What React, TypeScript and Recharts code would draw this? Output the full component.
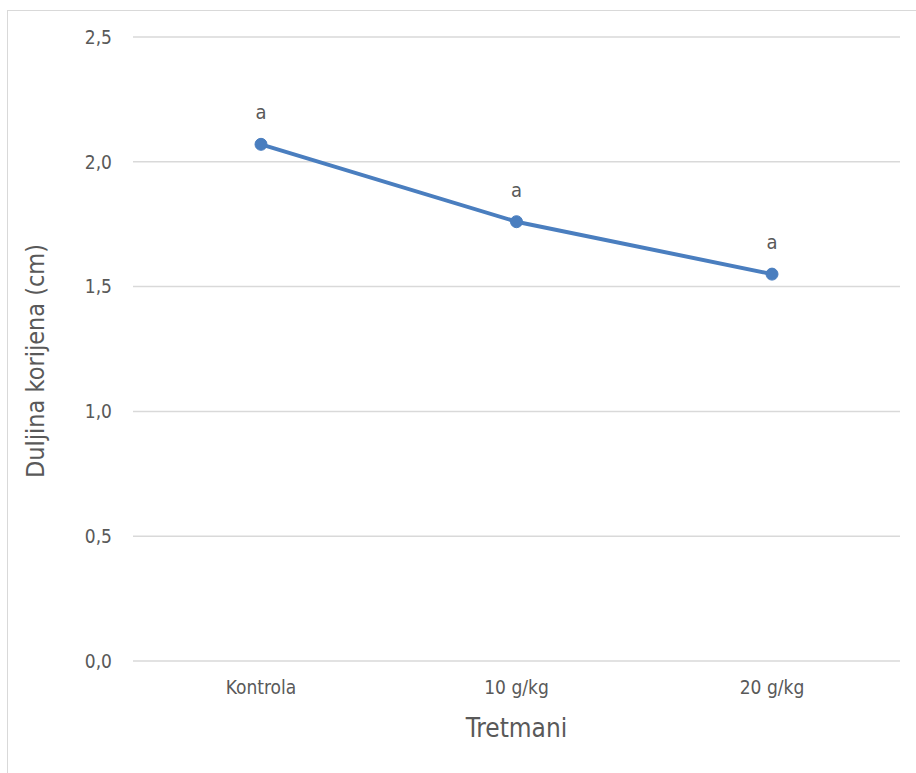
import React from "react";
import {
  LineChart,
  Line,
  XAxis,
  YAxis,
  CartesianGrid,
  LabelList,
  Label
} from "recharts";

const treatments = ["Kontrola", "10 g/kg", "20 g/kg"];
const rootLength = [2.07, 1.76, 1.55];
const significance = ["a", "a", "a"];
const yTicks = [0, 0.5, 1, 1.5, 2, 2.5];

const FONT = "'Liberation Sans Narrow', 'DejaVu Sans Condensed', 'Open Sans', sans-serif";
const TEXT = "#595959";

const data = treatments.map((name, i) => ({
  name,
  value: rootLength[i],
  sig: significance[i]
}));

const fmt = (v: number) => v.toFixed(1).replace(".", ",");

export default function App() {
  return (
    <div
      style={{
        position: "absolute",
        left: 7,
        top: 10,
        width: 930,
        height: 790,
        border: "1px solid #d9d9d9",
        background: "#fff",
        fontFamily: FONT
      }}
    >
      <div style={{ position: "absolute", left: -8, top: -11 }}>
        <LineChart
          width={920}
          height={780}
          data={data}
          margin={{ top: 37, right: 20, left: 0, bottom: 0 }}
        >
          <CartesianGrid vertical={false} stroke="#d9d9d9" strokeWidth={1.5} />
          <XAxis
            dataKey="name"
            height={119}
            axisLine={false}
            tickLine={false}
            tickMargin={14}
            padding={{ left: 128, right: 128 }}
            tick={{ fill: TEXT, fontSize: 19, fontFamily: FONT }}
          >
            <Label
              value="Tretmani"
              position="insideTop"
              offset={58}
              style={{ fill: TEXT, fontSize: 26, fontFamily: FONT }}
            />
          </XAxis>
          <YAxis
            width={133}
            domain={[0, 2.5]}
            ticks={yTicks}
            tickFormatter={fmt}
            axisLine={false}
            tickLine={false}
            tickMargin={15}
            tick={{ fill: TEXT, fontSize: 19, fontFamily: FONT }}
          >
            <Label
              value="Duljina korijena (cm)"
              angle={-90}
              position="insideLeft"
              offset={35}
              dy={12}
              style={{
                fill: TEXT,
                fontSize: 25,
                fontFamily: FONT,
                textAnchor: "middle"
              }}
            />
          </YAxis>
          <Line
            type="linear"
            dataKey="value"
            stroke="#4a7ebf"
            strokeWidth={4}
            dot={{ r: 6, fill: "#4a7ebf", stroke: "#4a7ebf", strokeWidth: 1 }}
            isAnimationActive={false}
          >
            <LabelList
              dataKey="sig"
              position="top"
              offset={25}
              style={{ fill: TEXT, fontSize: 20, fontFamily: FONT }}
            />
          </Line>
        </LineChart>
      </div>
    </div>
  );
}
